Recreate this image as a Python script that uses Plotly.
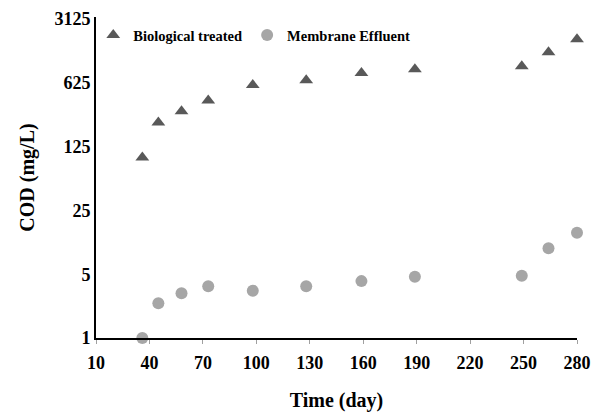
import plotly.graph_objects as go

days = [36, 45, 58, 73, 98, 128, 159, 189, 249, 264, 280]
bio_treated = [95, 230, 305, 400, 590, 665, 800, 880, 950, 1350, 1880]
membrane_eff = [1.0, 2.4, 3.1, 3.7, 3.3, 3.7, 4.2, 4.7, 4.8, 9.6, 14.2]

x_ticks = [10, 40, 70, 100, 130, 160, 190, 220, 250, 280]
y_ticks = [1, 5, 25, 125, 625, 3125]

FONT = "Liberation Serif, Times New Roman, serif"

fig = go.Figure()
fig.add_trace(go.Scatter(
    x=days, y=bio_treated, mode="markers", name="Biological treated",
    marker=dict(symbol="triangle-up", size=12, color="#595959"),
    cliponaxis=False,
))
fig.add_trace(go.Scatter(
    x=days, y=membrane_eff, mode="markers", name="Membrane Effluent",
    marker=dict(symbol="circle", size=12, color="#A6A6A6"),
    cliponaxis=False,
))

fig.update_layout(
    width=592, height=412,
    margin=dict(l=96, r=15, t=17, b=74),
    paper_bgcolor="white", plot_bgcolor="white",
    font=dict(family=FONT, color="black", weight="bold"),
    showlegend=True,
    legend=dict(
        orientation="h", x=0.329, xanchor="center", y=0.944, yanchor="middle",
        font=dict(family=FONT, size=14.5, color="black", weight="bold"),
        bgcolor="rgba(0,0,0,0)", itemwidth=30,
    ),
)
fig.update_xaxes(
    range=[10, 280], tickvals=x_ticks, ticktext=[str(v) for v in x_ticks],
    showline=True, linecolor="black", linewidth=2, automargin=False,
    ticks="outside", ticklen=4, tickcolor="#A0A0A0", tickwidth=1,
    ticklabelstandoff=3,
    showgrid=False, zeroline=False, layer="above traces",
    tickfont=dict(family=FONT, size=18, color="black", weight="bold"),
    title=dict(text="Time (day)", standoff=22,
               font=dict(family=FONT, size=20, color="black", weight="bold")),
)
fig.update_yaxes(
    type="log", range=[0, 3.517], tickvals=y_ticks, ticktext=[str(v) for v in y_ticks],
    showline=True, linecolor="black", linewidth=2, automargin=False,
    ticks="", showgrid=False, zeroline=False, layer="above traces",
    tickfont=dict(family=FONT, size=18, color="black", weight="bold"),
    title=dict(text="COD (mg/L)", standoff=14,
               font=dict(family=FONT, size=20, color="black", weight="bold")),
)

# remove the default 8px page margin so the 592x412 figure fills the window exactly
fig.write_html("out.html", config={"displayModeBar": False},
               post_script="document.body.style.margin='0';")
